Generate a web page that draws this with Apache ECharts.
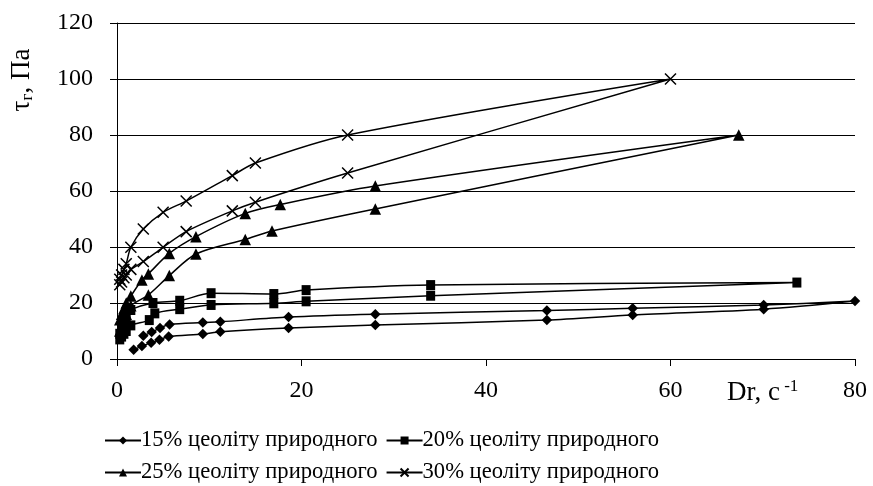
<!DOCTYPE html>
<html>
<head>
<meta charset="utf-8">
<script src="https://cdn.jsdelivr.net/npm/echarts@6/dist/echarts.min.js"></script>
<style>html,body{margin:0;padding:0;background:#fff}#c{width:873px;height:486px}</style>
</head>
<body>
<div id="c"></div>
<script>
// Categories / series names
const seriesNames = ['15% цеоліту природного', '20% цеоліту природного', '25% цеоліту природного', '30% цеоліту природного'];
// Tick labels
const xTicks = [0, 20, 40, 60, 80];
const yTicks = [0, 20, 40, 60, 80, 100, 120];

// 15% (diamonds): upper branch to max, then lower branch back
const s15x = [2.85, 3.76, 4.66, 5.7, 9.3, 11.2, 18.6, 28, 46.6, 55.9, 70.1, 80, 70.1, 55.9, 46.6, 28, 18.6, 11.2, 9.3, 5.6, 4.6, 3.7, 2.7, 1.8];
const s15y = [8.3, 9.6, 11.1, 12.3, 13.0, 13.3, 15.0, 16.0, 17.3, 18.1, 19.3, 20.7, 17.8, 15.7, 13.9, 12.1, 11.1, 9.75, 8.9, 8.0, 6.9, 5.8, 4.6, 3.3];
// 20% (squares)
const s20x = [0.3, 0.5, 0.75, 1.0, 1.5, 3.9, 6.8, 10.2, 17.0, 20.5, 34, 73.7, 34, 20.5, 17.0, 10.2, 6.8, 4.1, 3.5, 1.5, 1.0, 0.75, 0.5, 0.3];
const s20y = [9, 11, 13, 15, 17.5, 20.0, 20.8, 23.5, 23.2, 24.6, 26.4, 27.3, 22.6, 20.6, 19.9, 19.3, 17.8, 16.3, 13.9, 12.0, 10.0, 9.0, 8.0, 7.0];
// 25% (triangles)
const s25x = [0.3, 0.5, 0.75, 1.0, 1.5, 2.7, 3.4, 5.67, 8.56, 13.9, 17.7, 28, 67.4, 28, 16.8, 13.9, 8.56, 5.67, 3.4, 1.5, 1.0, 0.75, 0.5, 0.3];
const s25y = [14, 16, 18, 20, 22.5, 28.2, 30.4, 37.7, 43.7, 52.0, 55.2, 61.8, 80, 53.6, 45.7, 42.7, 37.5, 29.8, 22.9, 19, 16, 14, 12, 10];
// 30% (crosses)
const s30x = [0.3, 0.5, 0.75, 1.0, 1.5, 2.85, 5.0, 7.5, 12.5, 15, 25, 60, 25, 15, 12.5, 7.5, 5.0, 2.85, 1.5, 1.0, 0.75, 0.5, 0.3];
const s30y = [28.5, 30, 32, 34, 39.9, 46.4, 52.4, 56.4, 65.5, 70, 80, 100, 66.4, 56, 52.9, 45.5, 39.9, 34.8, 32, 30, 29, 27.5, 26.5];

const FONT = "'Liberation Serif', 'Times New Roman', serif";
const FS = 24;
const LFS = 22.6;
const zip = (xs, ys) => xs.map((x, i) => [x, ys[i]]);

const symbols = [
  'path://M5,0L10,5L5,10L0,5Z',
  'rect',
  'triangle',
  'path://M0,0L10,10M10,0L0,10'
];
const sizes = [10.5, [9, 10], 11.5, 11];
const datas = [zip(s15x, s15y), zip(s20x, s20y), zip(s25x, s25y), zip(s30x, s30y)];

const chart = echarts.init(document.getElementById('c'), null, {renderer: 'canvas'});
chart.setOption({
  animation: false,
  backgroundColor: '#fff',
  grid: {left: 117, right: 18, top: 23, bottom: 127, containLabel: false, outerBoundsMode: 'none'},
  xAxis: {
    type: 'value', min: xTicks[0], max: xTicks[xTicks.length - 1], interval: 20,
    axisLine: {show: true, onZero: false, lineStyle: {color: '#000', width: 1}},
    axisTick: {show: true, inside: false, length: 7, lineStyle: {color: '#000'}},
    splitLine: {show: false},
    axisLabel: {color: '#000', fontFamily: FONT, fontSize: FS, margin: 20}
  },
  yAxis: {
    type: 'value', min: yTicks[0], max: yTicks[yTicks.length - 1], interval: 20,
    axisLine: {show: true, lineStyle: {color: '#000', width: 1}},
    axisTick: {show: true, inside: false, length: 7, lineStyle: {color: '#000'}},
    splitLine: {show: true, lineStyle: {color: '#000', width: 1}},
    axisLabel: {color: '#000', fontFamily: FONT, fontSize: FS, margin: 24}
  },
  legend: [
    {
      data: [seriesNames[0], seriesNames[1]], left: 99, top: 424, itemWidth: 36, itemHeight: 10, itemGap: 8,
      textStyle: {color: '#000', fontFamily: FONT, fontSize: LFS, padding: [0, 0, 0, -5]}
    },
    {
      data: [seriesNames[2], seriesNames[3]], left: 99, top: 456, itemWidth: 36, itemHeight: 10, itemGap: 8,
      textStyle: {color: '#000', fontFamily: FONT, fontSize: LFS, padding: [0, 0, 0, -5]}
    }
  ],
  series: seriesNames.map((n, i) => ({
    name: n,
    type: 'line',
    data: datas[i],
    smooth: 0.3,
    symbol: symbols[i],
    symbolSize: sizes[i],
    showAllSymbol: true,
    lineStyle: {color: '#000', width: 1.5},
    itemStyle: {color: '#000', borderColor: '#000', borderWidth: i === 3 ? 1.5 : 0},
    emphasis: {disabled: true}
  })),
  graphic: [
    {
      type: 'text', x: 22, y: 80, rotation: Math.PI / 2,
      style: {
        text: '{a|τ}{s|г}{a|, Па}',
        textAlign: 'center', textVerticalAlign: 'middle',
        rich: {
          a: {fontFamily: FONT, fontSize: 27, fill: '#000'},
          s: {fontFamily: FONT, fontSize: 17, fill: '#000', padding: [12, 0, 0, 0]}
        }
      }
    },
    {
      type: 'text', x: 727, y: 393,
      style: {
        text: '{a|Dr, с}{s| -1}',
        textAlign: 'left', textVerticalAlign: 'middle',
        rich: {
          a: {fontFamily: FONT, fontSize: 27, fill: '#000'},
          s: {fontFamily: FONT, fontSize: 17, fill: '#000', padding: [0, 0, 12, 0]}
        }
      }
    }
  ]
});
</script>
</body>
</html>
